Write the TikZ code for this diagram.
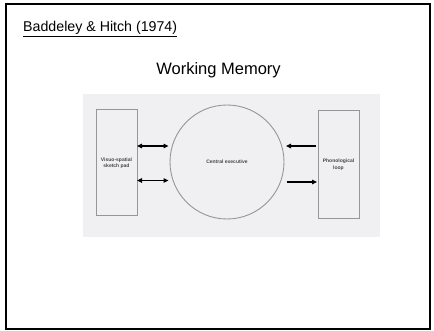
\documentclass[tikz,border=0pt]{standalone}
\usepackage{fontspec}
\setmainfont{Liberation Sans}
\usetikzlibrary{arrows.meta}
\definecolor{panelgray}{RGB}{240,240,243}
\definecolor{linegray}{RGB}{150,150,153}
\definecolor{txtgray}{RGB}{70,70,72}
\tikzset{
  modbox/.style={draw=linegray, line width=0.9pt, fill=none},
  small/.style={font=\fontsize{5}{6.5}\selectfont\bfseries, text=txtgray, align=center, inner sep=0pt},
  arr/.style={line width=1.2pt, -{Triangle[length=5pt,width=4.5pt]}},
  darr/.style={line width=1.2pt, {Triangle[length=5pt,width=4.5pt]}-{Triangle[length=5pt,width=4.5pt]}},
}
\begin{document}
\begin{tikzpicture}[x=1pt,y=-1pt]
\useasboundingbox (0,0) rectangle (434,331);
\draw[line width=2pt] (6,4) rectangle (430,329);
\node[anchor=base west, inner sep=0pt, font=\fontsize{14.2}{17}\selectfont] (ref) at (23,31.5) {\underline{Baddeley \& Hitch (1974)}};
\node[anchor=base, inner sep=0pt, font=\fontsize{16.5}{19}\selectfont] (title) at (218.5,75) {Working Memory};
\fill[panelgray] (83,94.5) rectangle (380,237.5);
\draw[modbox] (96,109) rectangle (137,215);
\draw[modbox] (318,110) rectangle (359,218);
\node[small] (vs) at (116.5,163) {Visuo-spatial\\sketch pad};
\node[small] (pl) at (338.5,164.5) {Phonological\\loop};
\node[draw=linegray, line width=0.9pt, circle, minimum size=114pt, inner sep=0pt] (ce) at (227,162) {};
\node[small] (cet) at (227,162) {Central executive};
\coordinate (l1a) at (137,146);
\coordinate (l1b) at (168.5,146);
\coordinate (l2a) at (137,180.5);
\coordinate (l2b) at (168.5,180.5);
\coordinate (r1a) at (316,146);
\coordinate (r1b) at (286,146);
\coordinate (r2a) at (286.5,182);
\coordinate (r2b) at (317,182);
\draw[darr] (l1a) -- (l1b);
\draw[darr] (l2a) -- (l2b);
\draw[arr] (r1a) -- (r1b);
\draw[arr] (r2a) -- (r2b);
\end{tikzpicture}
\end{document}
